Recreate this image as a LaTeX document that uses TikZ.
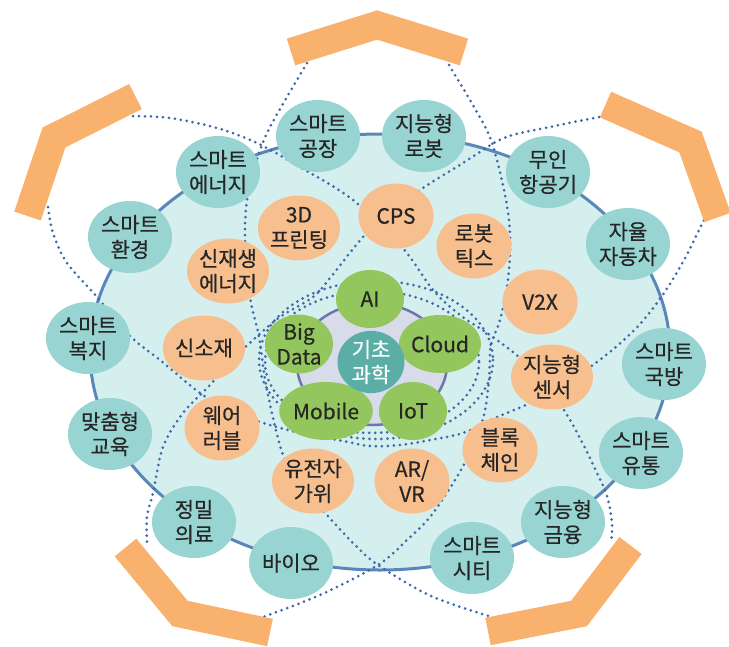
\documentclass[tikz,border=0pt]{standalone}
\usepackage{fontspec}
\newfontfamily\kr[FakeBold=0.5]{Noto Sans CJK KR}
\usetikzlibrary{shapes.geometric}
\definecolor{tealN}{HTML}{97D4D2}
\definecolor{orangeN}{HTML}{F8BF8E}
\definecolor{greenN}{HTML}{93C75D}
\definecolor{centerC}{HTML}{5BAEA5}
\definecolor{bigFill}{HTML}{D5EEEE}
\definecolor{bigLine}{HTML}{5A87BA}
\definecolor{innerFill}{HTML}{D7DBEA}
\definecolor{innerLine}{HTML}{6B75AE}
\definecolor{dotC}{HTML}{3F6AAA}
\definecolor{brk}{HTML}{F9B26E}
\definecolor{txt}{HTML}{262626}
\begin{document}
\begin{tikzpicture}[x=1pt,y=-1pt,
  base/.style={ellipse, inner sep=0pt, align=center, font=\kr\fontsize{21}{25}\selectfont, text=txt},
  outerN/.style={base, fill=tealN, minimum width=84pt, minimum height=72pt},
  midN/.style={base, fill=orangeN, minimum width=75pt, minimum height=65pt},
  coreN/.style={base, fill=greenN, minimum width=68pt, minimum height=58pt},
  dots/.style={draw=dotC, line width=3pt, dash pattern=on 0pt off 6pt, line cap=round},
  bracket/.style={draw=brk, line width=28pt, line join=miter, line cap=butt},
]
\useasboundingbox (0,0) rectangle (729,646);
% big ellipse
\draw[fill=bigFill, draw=bigLine, line width=3pt] (380,352) ellipse [x radius=290, y radius=218];
% long dotted arcs
\draw[dots] plot[smooth, tension=0.55] coordinates {(307,63) (287,97) (267,133) (254,168) (247,200) (245,240) (250,297) (259,337) (267,390) (283,455) (302,487) (327,515) (353,543) (378,565) (431,596) (492,617)};
\draw[dots] plot[smooth, tension=0.55] coordinates {(449,65) (474,107) (491,140) (504,190) (510,233) (508,280) (500,320) (491,345) (489,380) (484,415) (473,447) (455,480) (430,517) (407,540) (378,565) (320,595) (263,617)};
\draw[dots] plot[smooth, tension=0.55] coordinates {(133,116) (170,118) (217,128) (257,143) (300,167) (353,200) (402,247) (433,290) (460,315) (490,335) (520,358) (545,385) (564,410) (581,440) (597,473) (607,496) (612,523) (611,543)};
\draw[dots] plot[smooth, tension=0.55] coordinates {(48,207) (53,233) (67,263) (97,297) (130,336) (160,360) (200,393) (230,410) (260,422) (300,433) (343,441) (370,446) (400,445) (430,440) (463,433) (495,418) (530,403) (560,385) (590,367) (617,346) (641,323) (664,293) (684,260) (704,220)};
\draw[dots] plot[smooth, tension=0.55] coordinates {(599,117) (550,127) (504,138) (463,163) (423,188) (390,212) (363,237) (330,278) (313,297) (280,317) (253,340) (230,362) (210,385) (183,413) (163,447) (153,493) (147,516) (147,543)};
% inner dotted rings
\draw[dots] (376,360) ellipse [x radius=117, y radius=79];
\draw[dots] (372,362) ellipse [x radius=107, y radius=71];
% brackets
\draw[bracket] (291,52) -- (377,25) -- (464,52);
\draw[bracket] (135.5,96.5) -- (54,137.5) -- (27.5,216);
\draw[bracket] (605.5,104.5) -- (690.5,142) -- (717.5,217.5);
\draw[bracket] (125.5,547.5) -- (180,613.5) -- (270,632.5);
\draw[bracket] (630.5,545.5) -- (579,613.5) -- (488,631.5);
% inner ellipse
\draw[fill=innerFill, draw=innerLine, line width=2.5pt] (372,364) ellipse [x radius=75, y radius=61];
% outer teal nodes
\node[outerN] (gongjang) at (318,136) {스마트\\공장};
\node[outerN] (robot) at (424,136) {지능형\\로봇};
\node[outerN] (drone) at (548,172) {무인\\항공기};
\node[outerN] (car) at (628,244) {자율\\자동차};
\node[outerN] (defense) at (664,364) {스마트\\국방};
\node[outerN] (logis) at (641,453) {스마트\\유통};
\node[outerN] (fin) at (563,522) {지능형\\금융};
\node[outerN] (city) at (472,558) {스마트\\시티};
\node[outerN] (bio) at (291,563) {바이오};
\node[outerN] (med) at (194,522) {정밀\\의료};
\node[outerN] (edu) at (110,434) {맞춤형\\교육};
\node[outerN] (welfare) at (88,338) {스마트\\복지};
\node[outerN] (env) at (130,237) {스마트\\환경};
\node[outerN] (energy) at (218,172) {스마트\\에너지};
% orange nodes
\node[midN] (print) at (299,228) {3D\\프린팅};
\node[midN] (cps) at (396,216) {CPS};
\node[midN] (robotics) at (474,246) {로봇\\틱스};
\node[midN] (v2x) at (540,302) {V2X};
\node[midN] (sensor) at (552,377) {지능형\\센서};
\node[midN] (block) at (500,450) {블록\\체인};
\node[midN] (arvr) at (412,481) {AR/\\VR};
\node[midN] (gene) at (313,481) {유전자\\가위};
\node[midN] (wear) at (222,428) {웨어\\러블};
\node[midN] (material) at (204,348) {신소재};
\node[midN] (renew) at (228,271) {신재생\\에너지};
% green nodes
\node[coreN] (ai) at (370,299) {AI};
\node[coreN] (bigdata) at (299,344) {Big\\Data};
\node[coreN] (cloud) at (440,344) {Cloud};
\node[coreN] (mobile) at (326,411) {Mobile};
\node[coreN] (iot) at (413,411) {IoT};
% center
\node[base, fill=centerC, text=white, minimum width=67pt, minimum height=51pt] (basic) at (371,362) {기초\\과학};
\end{tikzpicture}
\end{document}
